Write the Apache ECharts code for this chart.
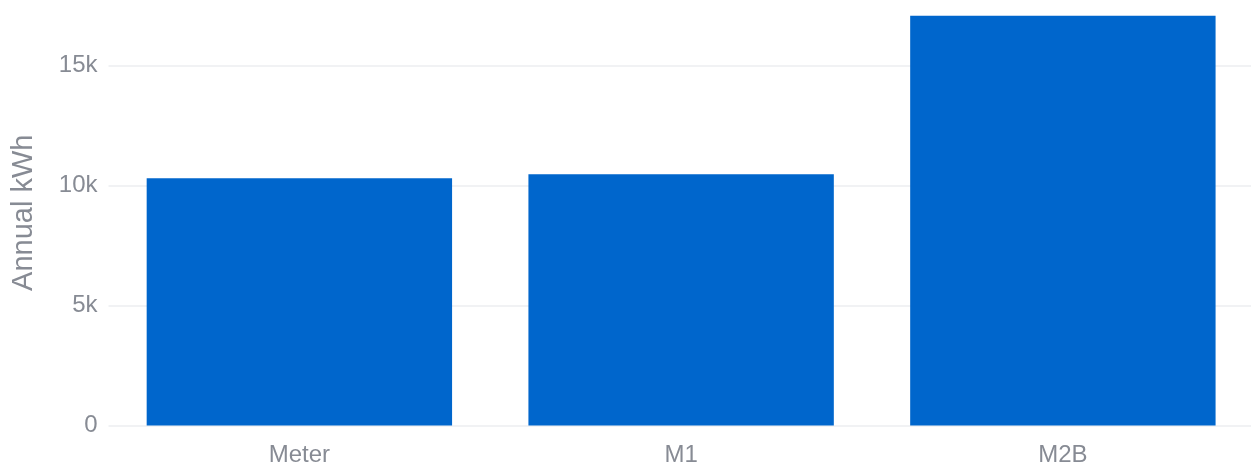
<!DOCTYPE html>
<html>
<head>
<meta charset="utf-8">
<script src="https://cdn.jsdelivr.net/npm/echarts@6/dist/echarts.min.js"></script>
<style>
html,body{margin:0;padding:0;background:#fff;overflow:hidden;}
#chart{width:1255px;height:468px;}
</style>
</head>
<body>
<div id="chart"></div>
<script>
const categories = ["Meter", "M1", "M2B"];
const annualKWh = [10300, 10470, 17075];
const yTicks = [0, 5000, 10000, 15000];
const yTickLabels = ["0", "5k", "10k", "15k"];

const FONT = "'Liberation Sans', Arial, sans-serif";
const TXT = "#878b94";

const chart = echarts.init(document.getElementById('chart'), null, {renderer: 'canvas'});
chart.setOption({
  animation: false,
  backgroundColor: '#ffffff',
  grid: {left: 108.5, right: 1.25, top: 0, bottom: 42.5, containLabel: false},
  xAxis: {
    type: 'category',
    data: categories,
    axisLine: {show: false},
    axisTick: {show: false},
    axisLabel: {color: TXT, fontSize: 24, fontFamily: FONT, margin: 18}
  },
  yAxis: {
    type: 'value',
    min: 0,
    max: 17730,
    interval: 5000,
    name: 'Annual kWh',
    nameLocation: 'middle',
    nameGap: 70,
    nameTextStyle: {color: TXT, fontSize: 29, fontFamily: FONT},
    axisLine: {show: false},
    axisTick: {show: false},
    axisLabel: {
      color: TXT, fontSize: 24, fontFamily: FONT, margin: 11,
      showMaxLabel: false,
      formatter: function (v) {
        const i = yTicks.indexOf(v);
        return i >= 0 ? yTickLabels[i] : '';
      }
    },
    splitLine: {show: true, showMaxLine: false, lineStyle: {color: '#eceef1', width: 1.5}}
  },
  series: [{
    type: 'bar',
    data: annualKWh,
    barWidth: '80%',
    itemStyle: {color: '#0066cc'}
  }]
});
</script>
</body>
</html>
